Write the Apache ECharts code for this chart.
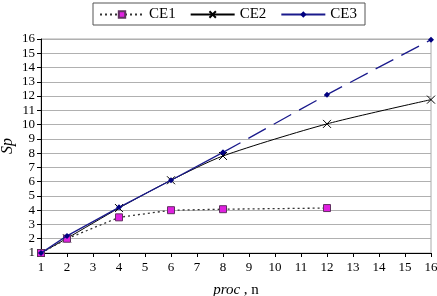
<!DOCTYPE html>
<html>
<head>
<meta charset="utf-8">
<script src="https://cdn.jsdelivr.net/npm/echarts@6/dist/echarts.min.js"></script>
<style>
  html, body { margin: 0; padding: 0; background: #fff; }
  #chart { width: 437px; height: 296px; }
</style>
</head>
<body>
<div id="chart"></div>
<script>
// processor counts and speedup readings
const ce1X = [1, 2, 4, 6, 8, 12];
const ce1Y = [1, 2.0, 3.5, 4.0, 4.07, 4.15];
const ce2X = [1, 2, 4, 6, 8, 12, 16];
const ce2Y = [1, 2.03, 4.15, 6.1, 7.8, 10.05, 11.75];
const ce3X = [1, 2, 4, 6, 8, 12, 16];
const ce3Y = [1, 2.2, 4.2, 6.1, 8.05, 12.1, 15.95];

const pairs = (xs, ys) => xs.map((x, i) => [x, ys[i]]);
const ce3All = pairs(ce3X, ce3Y);
const splitAt = ce3X.indexOf(8);

const font = "'Liberation Serif', 'Times New Roman', serif";
const xMark = "path://M0,0L10,10M10,0L0,10";

const chart = echarts.init(document.getElementById("chart"), null, { renderer: "canvas" });

chart.setOption({
  animation: false,
  backgroundColor: "#fff",
  textStyle: { fontFamily: font },
  legend: {
    data: ["CE1", "CE2", "CE3"],
    top: 3,
    left: 93,
    width: 264,
    padding: [4, 8, 3, 6],
    itemGap: 14,
    itemWidth: 44,
    itemHeight: 8,
    borderColor: "#555",
    borderWidth: 1,
    textStyle: { fontFamily: font, fontSize: 15, color: "#000" }
  },
  grid: {
    left: 41, right: 6, top: 39, bottom: 43,
    outerBoundsMode: "none",
    containLabel: false,
    show: true, borderColor: "#aaa", borderWidth: 1
  },
  xAxis: {
    type: "value",
    min: 1, max: 16, interval: 1,
    name: "{i|proc} , n",
    nameLocation: "middle",
    nameGap: 30,
    nameMoveOverlap: false,
    nameTextStyle: {
      fontFamily: font, fontSize: 15, color: "#000",
      rich: { i: { fontStyle: "italic", fontFamily: font, fontSize: 15 } }
    },
    axisLine: { lineStyle: { color: "#000", width: 1 } },
    axisTick: { show: true, length: 4, lineStyle: { color: "#000" } },
    axisLabel: { fontFamily: font, fontSize: 13, color: "#000", margin: 8 },
    splitLine: { show: false }
  },
  yAxis: {
    type: "value",
    min: 1, max: 16, interval: 1,
    name: "Sp",
    nameLocation: "middle",
    nameGap: 25,
    nameMoveOverlap: false,
    nameRotate: 90,
    nameTextStyle: { fontFamily: font, fontSize: 16, fontStyle: "italic", color: "#000" },
    axisLine: { show: true, lineStyle: { color: "#000", width: 1 } },
    axisTick: { show: true, length: 4, lineStyle: { color: "#000" } },
    axisLabel: { fontFamily: font, fontSize: 13, color: "#000", margin: 6 },
    splitLine: { show: true, lineStyle: { color: "#b0b0b0", width: 1 } }
  },
  series: [
    {
      name: "CE1",
      type: "line",
      data: pairs(ce1X, ce1Y),
      symbol: "rect",
      symbolSize: 7,
      itemStyle: { color: "#e020e0", borderColor: "#603060", borderWidth: 1 },
      lineStyle: { color: "#333", width: 1.3, type: [2, 3] },
      z: 3
    },
    {
      name: "CE2",
      type: "line",
      data: pairs(ce2X, ce2Y),
      smooth: 0.25,
      symbol: xMark,
      symbolSize: 8,
      itemStyle: { color: "none", borderColor: "#000", borderWidth: 1 },
      lineStyle: { color: "#000", width: 1 },
      z: 2
    },
    {
      name: "CE3",
      type: "line",
      data: ce3All.slice(0, splitAt + 1),
      symbol: "diamond",
      symbolSize: 6,
      itemStyle: { color: "#000080" },
      lineStyle: { color: "#1a1a8c", width: 1.3 },
      z: 4
    },
    {
      name: "CE3",
      type: "line",
      data: ce3All.slice(splitAt),
      symbol: "diamond",
      symbolSize: 6,
      itemStyle: { color: "#000080" },
      lineStyle: { color: "#1a1a8c", width: 1.3, type: [20, 9] },
      z: 4
    }
  ]
});
</script>
</body>
</html>
